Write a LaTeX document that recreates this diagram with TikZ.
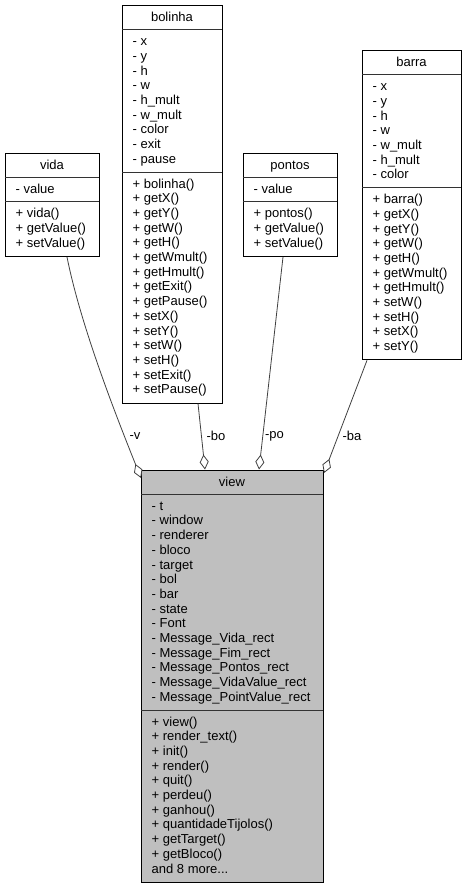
\documentclass[tikz,border=0pt]{standalone}
\usepackage{fontspec}
\setmainfont{Liberation Sans}
\usetikzlibrary{arrows.meta}
\definecolor{viewgray}{HTML}{BFBFBF}
\definecolor{edgegray}{HTML}{404040}
\newcommand\clsfont{\fontsize{13}{14.7}\selectfont}
\newcommand\moredots{...}
\def\clsfill{white}
\tikzset{
  classbox/.style={draw=black, line width=1pt, inner sep=0pt, anchor=north west},
  sepline/.style={draw=black!80, line width=1pt},
  member/.style={anchor=base west, inner sep=0pt, font=\clsfont},
  ctitle/.style={anchor=base, inner sep=0pt, font=\clsfont},
  assoc/.style={draw=edgegray, line width=0.8pt, -{Diamond[open, fill=white, length=15pt, width=9pt]}},
  elabel/.style={font=\clsfont, inner sep=0pt}
}
% #1 name, #2 left, #3 top, #4 width, #5 title, #6 n attrs, #7 attrs, #8 n methods, #9 methods
\newcommand\umlclass[9]{%
  \pgfmathsetmacro\sepA{#3+24.7}%
  \pgfmathsetmacro\sepB{\sepA+#6*14.7+10}%
  \pgfmathsetmacro\hgt{24.7+#6*14.7+10+#8*14.7+10}%
  \pgfmathsetmacro\rgt{#2+#4}%
  \node[classbox, fill=\clsfill, minimum width=#4pt, minimum height=\hgt pt] (#1) at (#2,#3) {};
  \draw[sepline] (#2,\sepA) -- (\rgt,\sepA);
  \draw[sepline] (#2,\sepB) -- (\rgt,\sepB);
  \node[ctitle] (#1-title) at ({#2+#4/2},{#3+16.5}) {#5};
  \foreach \t [count=\i] in {#7} \node[member] (#1-a\i) at ({#2+10.5},{\sepA+16+(\i-1)*14.7}) {\t};
  \foreach \t [count=\i] in {#9} \node[member] (#1-m\i) at ({#2+10.5},{\sepB+16+(\i-1)*14.7}) {\t};
}
\begin{document}
\begin{tikzpicture}[x=1pt, y=-1pt]
\useasboundingbox (0,0) rectangle (467,888);

\umlclass{vida}{5}{152.5}{94}{vida}{1}{- value}{3}{+ vida(), + getValue(), + setValue()}

\umlclass{bolinha}{122}{5}{100}{bolinha}{9}{- x, - y, - h, - w, - h\_mult, - w\_mult, - color, - exit, - pause}{15}{+ bolinha(), + getX(), + getY(), + getW(), + getH(), + getWmult(), + getHmult(), + getExit(), + getPause(), + setX(), + setY(), + setW(), + setH(), + setExit(), + setPause()}

\umlclass{pontos}{243}{152.5}{94}{pontos}{1}{- value}{3}{+ pontos(), + getValue(), + setValue()}

\umlclass{barra}{362}{50}{99}{barra}{7}{- x, - y, - h, - w, - w\_mult, - h\_mult, - color}{11}{+ barra(), + getX(), + getY(), + getW(), + getH(), + getWmult(), + getHmult(), + setW(), + setH(), + setX(), + setY()}

\def\clsfill{viewgray}
\umlclass{view}{141}{469.5}{182}{view}{14}{- t, - window, - renderer, - bloco, - target, - bol, - bar, - state, - Font, - Message\_Vida\_rect, - Message\_Fim\_rect, - Message\_Pontos\_rect, - Message\_VidaValue\_rect, - Message\_PointValue\_rect}{11}{+ view(), + render\_text(), + init(), + render(), + quit(), + perdeu(), + ganhou(), + quantidadeTijolos(), + getTarget(), + getBloco(), and 8 more\moredots}

\draw[assoc] ([xshift=62pt]vida.south west) .. controls (81,327) and (117,418) .. ([yshift=-8.5pt]view.north west);
\draw[assoc] ([xshift=76pt]bolinha.south west) -- ([xshift=64pt]view.north west);
\draw[assoc] ([xshift=40pt]pontos.south west) -- ([xshift=118pt]view.north west);
\draw[assoc] ([xshift=5pt]barra.south west) -- ([yshift=-3.5pt]view.north east);

\node[elabel] (lv) at (135,436) {-v};
\node[elabel] (lbo) at (216,436) {-bo};
\node[elabel] (lpo) at (274.5,436) {-po};
\node[elabel] (lba) at (352,436) {-ba};
\end{tikzpicture}
\end{document}
